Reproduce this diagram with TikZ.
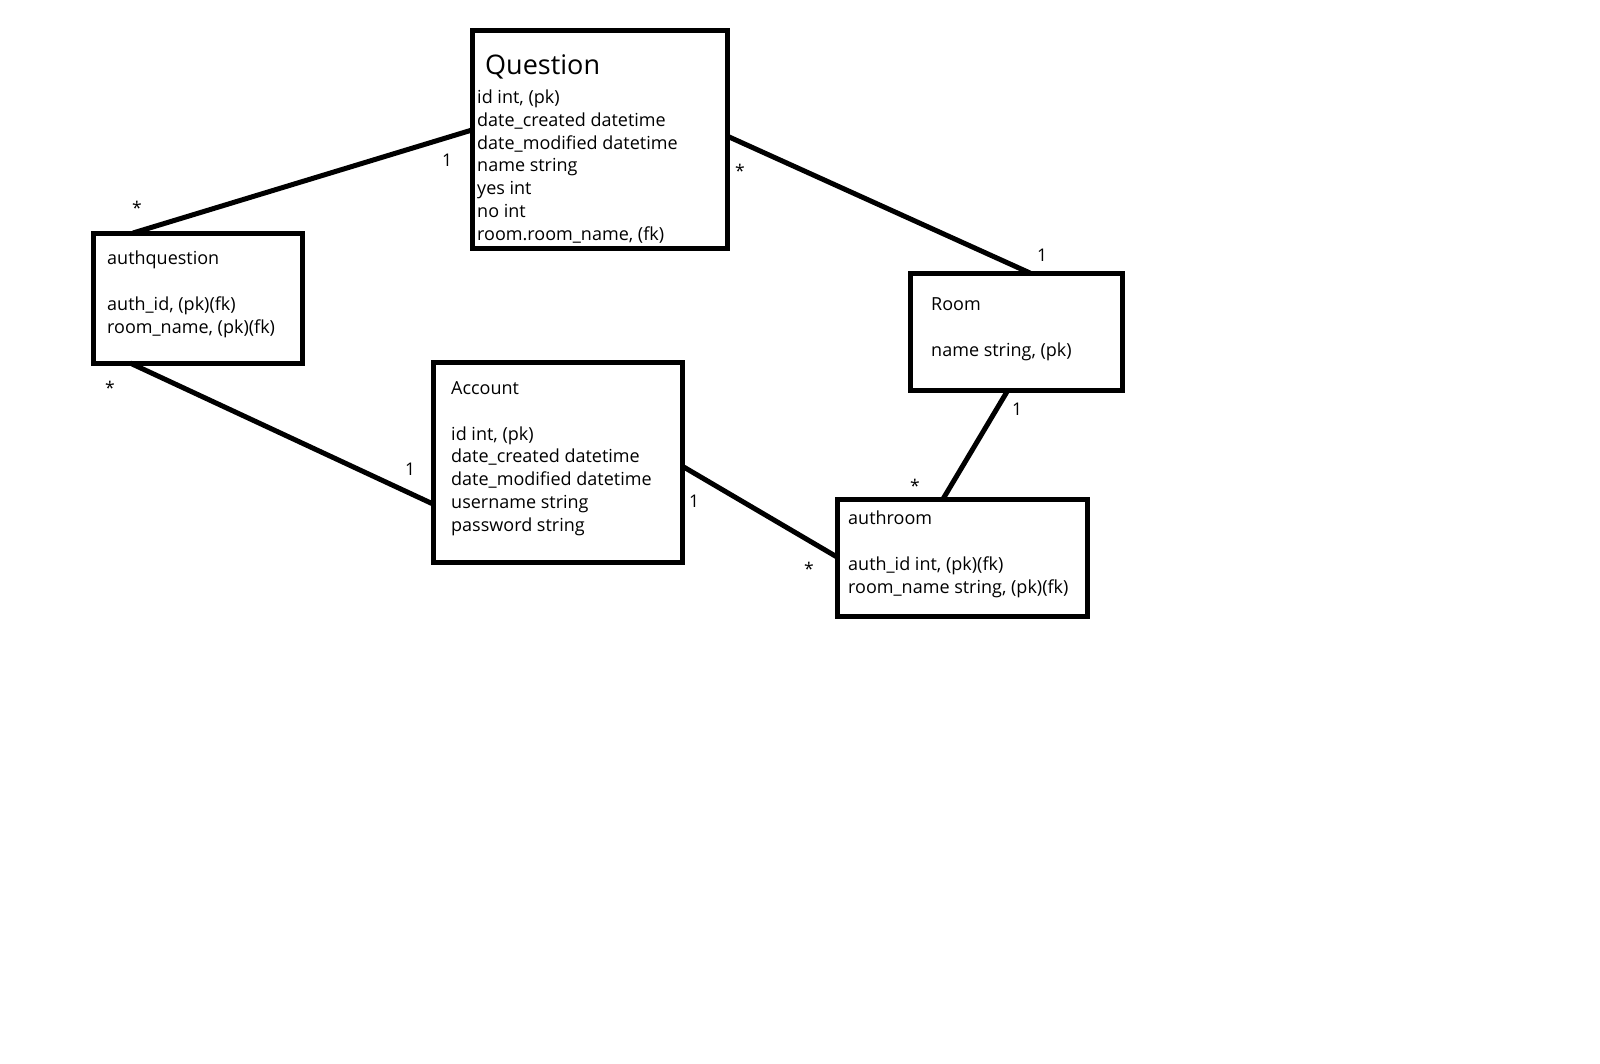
\documentclass[tikz,border=0pt]{standalone}
\usepackage{fontspec}
\setmainfont{Open Sans}
\usetikzlibrary{positioning}

\begin{document}
\begin{tikzpicture}[
        x=1pt, y=-1pt, % 1 unit = 1 pixel of the sketch
        entity/.style={draw, rectangle, line width=5pt, inner sep=0pt, outer sep=0pt, anchor=north west},
        attrs/.style={anchor=base west, inner sep=0pt, align=left, font=\fontsize{18}{22.7}\selectfont},
        title/.style={anchor=base west, inner sep=0pt, font=\fontsize{27}{30}\selectfont},
        card/.style={inner sep=0pt, font=\fontsize{17.5}{20}\selectfont},
        link/.style={line width=5pt}
    ]
        % Fundo branco
        \path[use as bounding box, fill=white] (0,0) rectangle (1600,1063);

        % Entidades
        \node[entity, minimum width=255pt, minimum height=218pt] (question) at (472,30) {};
        \node[entity, minimum width=209pt, minimum height=130pt] (authq) at (93,233) {};
        \node[entity, minimum width=249pt, minimum height=200pt] (account) at (433,362) {};
        \node[entity, minimum width=212pt, minimum height=117pt] (room) at (910,273) {};
        \node[entity, minimum width=250pt, minimum height=117pt] (authroom) at (837,499) {};

        % Textos (base = linha de baixo)
        \node[title] (qtitle) at ([shift={(13,44)}]question.north west) {Question};
        \node[attrs] (qattrs) at ([shift={(5,210)}]question.north west) {id int, (pk)\\date\_created datetime\\date\_modified datetime\\name string\\yes int\\no int\\room.room\_name, (fk)};
        \node[attrs] (aqattrs) at ([shift={(14,100)}]authq.north west) {authquestion\\[22.7pt]auth\_id, (pk)(fk)\\room\_name, (pk)(fk)};
        \node[attrs] (acattrs) at ([shift={(18,169)}]account.north west) {Account\\[22.7pt]id int, (pk)\\date\_created datetime\\date\_modified datetime\\username string\\password string};
        \node[attrs] (rmattrs) at ([shift={(21,83)}]room.north west) {Room\\[22.7pt]name string, (pk)};
        \node[attrs] (arattrs) at ([shift={(11,94)}]authroom.north west) {authroom\\[22.7pt]auth\_id int, (pk)(fk)\\room\_name string, (pk)(fk)};

        % Ligações
        \draw[link] ([shift={(0,100)}]question.north west) -- ([shift={(40,0)}]authq.north west);
        \draw[link] ([shift={(0,106)}]question.north east) -- ([shift={(120,0)}]room.north west);
        \draw[link] ([shift={(37,0)}]authq.south west) -- ([shift={(0,142)}]account.north west);
        \draw[link] ([shift={(0,104)}]account.north east) -- ([shift={(0,58)}]authroom.north west);
        \draw[link] ([shift={(98,0)}]room.south west) -- ([shift={(106,0)}]authroom.north west);

        % Cardinalidades
        \node[card] (c1) at (447,160) {1};
        \node[card, anchor=north] (c2) at (137,201) {*};
        \node[card, anchor=north] (c3) at (740,164) {*};
        \node[card] (c4) at (1042,255) {1};
        \node[card, anchor=north] (c5) at (110,381) {*};
        \node[card] (c6) at (410,469) {1};
        \node[card] (c7) at (694,501) {1};
        \node[card, anchor=north] (c8) at (809,562) {*};
        \node[card] (c9) at (1017,409) {1};
        \node[card, anchor=north] (c10) at (915,479) {*};

    \end{tikzpicture}
\end{document}
